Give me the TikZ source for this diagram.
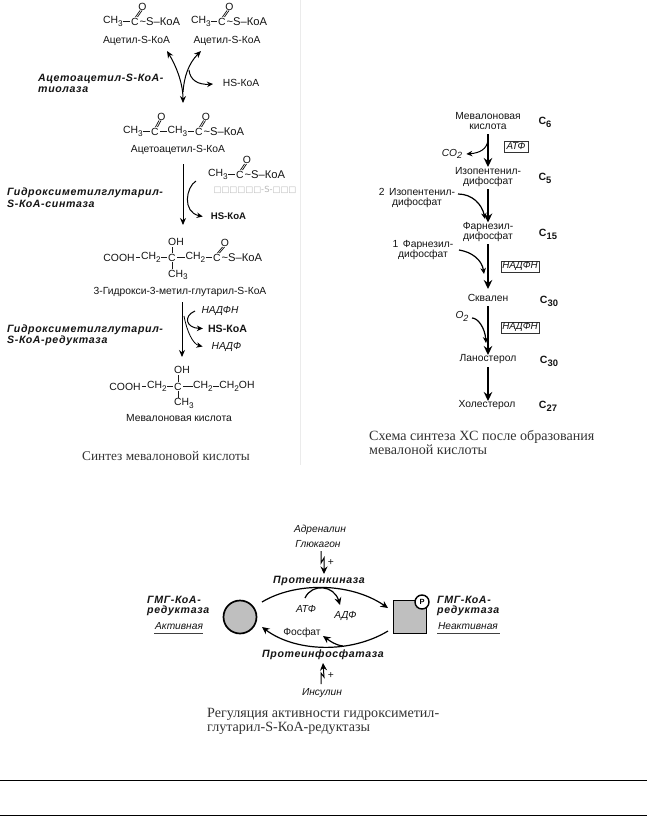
\documentclass[tikz,border=0pt]{standalone}
\usepackage{fontspec}
\setmainfont{Liberation Sans}
\newfontfamily\serifcap{Liberation Serif}
\newfontfamily\tofu{DejaVu Sans}
\newfontfamily\enzfont[LetterSpace=6]{Liberation Sans}
\usetikzlibrary{arrows.meta,calc}
\definecolor{txt}{gray}{0.08}
\newcommand{\sbs}[1]{\raisebox{-0.24em}{\fontsize{8.2}{8}\selectfont #1}}
\newcommand{\sbb}[1]{\raisebox{-0.3em}{\fontsize{9.4}{8}\selectfont #1}}
\newcommand{\tailko}{\fontsize{11.2}{10}\selectfont\textasciitilde S–КоА}
\tikzset{
 x=1pt,y=-1pt,
 chem/.style={inner sep=0pt,font=\fontsize{10.4}{10}\selectfont,text=txt},
 lab/.style={inner sep=0pt,font=\fontsize{10.3}{10}\selectfont,text=txt},
 itl/.style={inner sep=0pt,font=\fontsize{10.2}{10}\selectfont\itshape,text=txt},
 enz/.style={inner sep=0pt,anchor=west,font=\enzfont\fontsize{10.6}{11}\selectfont\bfseries\itshape,text=txt},
 captext/.style={inner sep=0pt,anchor=west,font=\serifcap\fontsize{14.1}{14}\selectfont,text=black!80},
 carb/.style={inner sep=0pt,font=\fontsize{10.5}{10}\selectfont\bfseries,text=txt},
 boxed/.style={draw=black!80,line width=0.5pt,inner xsep=1.2pt,inner ysep=0pt,minimum height=11.5pt,font=\fontsize{9.8}{10}\selectfont\itshape,text=txt},
 bond/.style={line width=0.75pt,draw=black!90},
 flow/.style={line width=1pt,draw=black,-{Stealth[length=7pt,width=6pt]}},
 flowb/.style={line width=1.4pt,draw=black,-{Stealth[length=9pt,width=8.5pt]}},
 side/.style={line width=1pt,draw=black,-{Stealth[length=6pt,width=5.5pt]}},
 regarr/.style={line width=1.2pt,draw=black,-{Stealth[length=7.5pt,width=7pt]}},
 rule/.style={line width=0.5pt,draw=black!75},
 pagerule/.style={line width=0.9pt,draw=black},
}
\newcommand{\dbl}[2]{% double bond from coordinate to coordinate
 \draw[bond] ([xshift=-1pt]#1) -- ([xshift=-1pt]#2);
 \draw[bond] ([xshift=1pt]#1) -- ([xshift=1pt]#2);}
\begin{document}
\begin{tikzpicture}
\useasboundingbox (0,0) rectangle (647,816);
\fill[white] (0,0) rectangle (647,816);
\draw[black!8,line width=0.5pt] (300,0) -- (300,465);

% --- row 1
\node[chem] (a1) at (113,21.5) {CH\sbs{3}};
\node[chem] (a2) at (135,21.5) {C};
\node[chem,anchor=west] (a3) at (139.5,21.5) {\tailko};
\node[chem] (a4) at (142.5,6.5) {O};
\draw[bond] ([xshift=0.5pt]a1.east) -- ([xshift=-1.5pt]a2.west);
\dbl{$(a2)+(1.5,-4.5)$}{$(a4)+(-1.5,4)$}
\node[chem] (b1) at (201,21.5) {CH\sbs{3}};
\node[chem] (b2) at (222,21.5) {C};
\node[chem,anchor=west] (b3) at (226.5,21.5) {\tailko};
\node[chem] (b4) at (229.5,6.5) {O};
\draw[bond] ([xshift=0.5pt]b1.east) -- ([xshift=-1.5pt]b2.west);
\dbl{$(b2)+(1.5,-4.5)$}{$(b4)+(-1.5,4)$}
\node[lab] (a5) at (136.5,40.5) {Ацетил-S-КоА};
\node[lab] (b5) at (227,40.5) {Ацетил-S-КоА};
\coordinate (t1) at (167,51);
\coordinate (t2) at (201,51);
\coordinate (t3) at (183,103);
\draw[flow,{Stealth[length=7pt,width=6pt]}-{Stealth[length=7pt,width=6pt]}] (t1) .. controls (175,64) and (183,82) .. (t3);
\draw[flow] (183,92) .. controls (184,78) and (188,64) .. (t2);
\node[lab] (hs1) at (241,83) {HS-КоА};
\coordinate (s1) at (189,70);
\draw[side] (s1) .. controls (190,80) and (198,85) .. (213,84);
\node[enz] (e1) at (38,78.5) {Ацетоацетил-S-КоА-};
\node[enz] (e1b) at (38,89.5) {тиолаза};

% --- row 2
\node[chem] (c1) at (133,131.5) {CH\sbs{3}};
\node[chem] (c2) at (155,131.5) {C};
\node[chem] (c3) at (177.5,131.5) {CH\sbs{3}};
\node[chem] (c4) at (199,131.5) {C};
\node[chem,anchor=west] (c5) at (203.5,131.5) {\tailko};
\node[chem] (c6) at (161.5,116.5) {O};
\node[chem] (c7) at (206,116.5) {O};
\draw[bond] ([xshift=0.5pt]c1.east) -- ([xshift=-1.5pt]c2.west);
\draw[bond] ([xshift=1.5pt]c2.east) -- ([xshift=-0.5pt]c3.west);
\draw[bond] ([xshift=0.5pt]c3.east) -- ([xshift=-1.5pt]c4.west);
\dbl{$(c2)+(1.5,-4.5)$}{$(c6)+(-1.5,4)$}
\dbl{$(c4)+(1.5,-4.5)$}{$(c7)+(-1.5,4)$}
\node[lab] (c8) at (178,149.5) {Ацетоацетил-S-КоА};
\coordinate (u1) at (183,164);
\coordinate (u2) at (183,225);
\draw[flow] (u1) -- (u2);
% side substrate
\node[chem] (d1) at (218,174.5) {CH\sbs{3}};
\node[chem] (d2) at (240,174.5) {C};
\node[chem,anchor=west] (d3) at (244.5,174.5) {\tailko};
\node[chem] (d4) at (247,160) {O};
\draw[bond] ([xshift=0.5pt]d1.east) -- ([xshift=-1.5pt]d2.west);
\dbl{$(d2)+(1.5,-4.5)$}{$(d4)+(-1.5,4)$}
\node[inner sep=0pt,text=black!28,font=\tofu\fontsize{8.4}{10}\selectfont] (d5) at (255,190) {□□□□□□-S-□□□};
\node[inner sep=0pt,text=txt,font=\fontsize{9.6}{10}\selectfont\bfseries] (hs2) at (228.5,216.5) {HS-КоА};
\coordinate (s2) at (196,181);
\draw[side] (s2) .. controls (186,187) and (182,212) .. ([xshift=-8pt]hs2.west);
\node[enz] (e2) at (7,192.5) {Гидроксиметилглутарил-};
\node[enz] (e2b) at (7,203.5) {S-КоА-синтаза};

% --- row 3
\node[chem] (f1) at (119,257.5) {COOH};
\node[chem] (f2) at (151,257.5) {CH\sbs{2}};
\node[chem] (f3) at (172,257.5) {C};
\node[chem] (f4) at (195.5,257.5) {CH\sbs{2}};
\node[chem] (f5) at (217,257.5) {C};
\node[chem,anchor=west] (f6) at (221.5,257.5) {\tailko};
\node[chem] (f7) at (176,241.5) {OH};
\node[chem] (f8) at (178,275) {CH\sbs{3}};
\node[chem] (f9) at (225,243) {O};
\draw[bond] ([xshift=1pt]f1.east) -- ([xshift=-1pt]f2.west);
\draw[bond] ([xshift=0.5pt]f2.east) -- ([xshift=-1pt]f3.west);
\draw[bond] ([xshift=1pt]f3.east) -- ([xshift=-0.5pt]f4.west);
\draw[bond] ([xshift=0.5pt]f4.east) -- ([xshift=-1pt]f5.west);
\draw[bond] (172,247) -- ([yshift=1pt]f3.north);
\draw[bond] ([yshift=-1pt]f3.south) -- (172,269);
\dbl{$(f5)+(1.5,-4.5)$}{$(f9)+(-1.5,4)$}
\node[lab] (f10) at (180,291.5) {3-Гидрокси-3-метил-глутарил-S-КоА};
\coordinate (v1) at (182,302);
\coordinate (v2) at (182,357);
\draw[flow] (v1) -- (v2);
\node[itl] (n1) at (220,310.5) {НАДФН};
\node[inner sep=0pt,text=txt,font=\fontsize{10.6}{11}\selectfont\bfseries] (n2) at (227.5,328.5) {HS-КоА};
\node[itl] (n3) at (226.5,346.5) {НАДФ};
\coordinate (s3) at (195,311);
\coordinate (s4) at (184,316);
\draw[side] (s3) .. controls (183,316) and (186,328) .. ([xshift=-5pt]n2.west);
\draw[side,line width=0.8pt] (s4) .. controls (187,332) and (193,344) .. ([xshift=-9pt]n3.west);
\node[enz] (e3) at (7,329.5) {Гидроксиметилглутарил-};
\node[enz] (e3b) at (7,340.5) {S-КоА-редуктаза};

% --- row 4
\node[chem] (g1) at (125,386.5) {COOH};
\node[chem] (g2) at (157,386.5) {CH\sbs{2}};
\node[chem] (g3) at (178,386.5) {C};
\node[chem] (g4) at (203,386.5) {CH\sbs{2}};
\node[chem] (g5) at (237,386.5) {CH\sbs{2}OH};
\node[chem] (g6) at (182,369.5) {OH};
\node[chem] (g7) at (184,403.5) {CH\sbs{3}};
\draw[bond] ([xshift=1pt]g1.east) -- ([xshift=-1pt]g2.west);
\draw[bond] ([xshift=0.5pt]g2.east) -- ([xshift=-1pt]g3.west);
\draw[bond] ([xshift=1pt]g3.east) -- ([xshift=-0.5pt]g4.west);
\draw[bond] ([xshift=0.5pt]g4.east) -- ([xshift=-0.5pt]g5.west);
\draw[bond] (178,375) -- ([yshift=1pt]g3.north);
\draw[bond] ([yshift=-1pt]g3.south) -- (178,398);
\node[lab] (g8) at (179,418.5) {Мевалоновая кислота};
\node[captext,font=\serifcap\fontsize{13.3}{14}\selectfont] (cap1) at (82,456) {Синтез мевалоновой кислоты};

% --- right column
\node[lab,align=center] (r1) at (488,121) {Мевалоновая\\кислота};
\node[carb] (c6n) at (545,122) {C\sbb{6}};
\node[lab,align=center] (r2) at (488,177) {Изопентенил-\\дифосфат};
\node[carb] (c5n) at (545,178) {C\sbb{5}};
\node[lab,align=center] (r3) at (488,232) {Фарнезил-\\дифосфат};
\node[carb] (c15n) at (548,234) {C\sbb{15}};
\node[lab] (r4) at (488,298) {Сквален};
\node[carb] (c30a) at (549,301) {C\sbb{30}};
\node[lab] (r5) at (488,359.5) {Ланостерол};
\node[carb] (c30b) at (549,361.5) {C\sbb{30}};
\node[lab] (r6) at (487,405.5) {Холестерол};
\node[carb] (c27) at (548,406.5) {C\sbb{27}};
\draw[flowb] (488,134) -- (488,167);
\draw[flowb] (488,189) -- (488,222.5);
\draw[flowb] (488,244) -- (488,289);
\draw[flowb] (488,306) -- (488,355);
\draw[flowb] (488,367) -- (488,401);
\node[itl] (co2) at (452,154) {CO\raisebox{-0.24em}{\fontsize{9}{8}\selectfont 2}};
\coordinate (w1) at (488,140);
\draw[side] (w1) .. controls (487,149) and (480,153) .. ([xshift=4pt]co2.east);
\node[boxed,minimum width=24pt] (atf) at (516,146.5) {АТФ};
\node[lab,align=center] (iso) at (417,198) {2\, Изопентенил-\\дифосфат};
\draw[side,line width=1.2pt] (458,194) .. controls (472,194) and (482,204) .. (485,219);
\node[lab,align=center] (far) at (423,250) {1\, Фарнезил-\\дифосфат};
\coordinate (w2) at (459,250);
\draw[side,line width=1.2pt] (w2) .. controls (472,252) and (482,260) .. (484,274);
\node[boxed] (nad1) at (520,266.5) {НАДФН};
\node[itl] (o2) at (462,316.5) {O\raisebox{-0.24em}{\fontsize{9}{8}\selectfont 2}};
\draw[side,line width=1.2pt] (472,318) .. controls (478,318) and (485,328) .. (486,343);
\node[boxed] (nad2) at (520,327.5) {НАДФН};
\node[captext,align=left] (cap2) at (369,443) {Схема синтеза ХС после образования\\мевалоной кислоты};

% --- regulation
\node[itl] (h1) at (320,530) {Адреналин};
\node[itl] (h2) at (318,544) {Глюкагон};
\node[enz,anchor=center] (pk) at (319,580.5) {Протеинкиназа};
\node[enz,anchor=center] (pp) at (323,654.5) {Протеинфосфатаза};
\node[itl] (h3) at (322,693) {Инсулин};
\node[lab] (pl1) at (331,563) {+};
\node[lab] (pl2) at (331,676) {+};
\draw[regarr,line width=1pt] (321,551) -- (321,563) -- (324,558) -- (324,574);
\draw[regarr,line width=1pt] (321,684) -- (321,673) -- (324,677) -- (323,663);
\node[circle,draw=black,line width=1.7pt,fill=black!25,minimum size=33pt,inner sep=0pt] (act) at (240,617) {};
\node[rectangle,draw=black,line width=1.7pt,fill=black!25,minimum size=33pt,inner sep=0pt] (ina) at (410,617) {};
\node[circle,draw=black,line width=1.4pt,fill=white,minimum size=14pt,inner sep=0pt,font=\fontsize{7.5}{8}\selectfont\bfseries] (ph) at (422,602) {P};
\draw[regarr] (262,602) .. controls (295,582) and (350,582) .. (388,608);
\draw[regarr] (388,631) .. controls (350,654) and (295,652) .. (262,627);
\node[itl] (atp) at (306,608.5) {АТФ};
\node[itl] (adp) at (345.5,615.5) {АДФ};
\node[lab] (fos) at (302,632.5) {Фосфат};
\draw[regarr] (305,598) .. controls (312,583) and (334,585) .. (340,605);
\coordinate (w3) at (343,646);
\draw[regarr] (w3) .. controls (335,645) and (330,641) .. (323,636);
\node[enz] (ga) at (147,600) {ГМГ-КоА-};
\node[enz] (gb) at (147,611) {редуктаза};
\node[itl] (ac) at (179,626.5) {Активная};
\draw[rule] (154,633) -- (203,633);
\node[enz] (gc) at (437,600) {ГМГ-КоА-};
\node[enz] (gd) at (437,611) {редуктаза};
\node[itl] (ne) at (468,626.5) {Неактивная};
\draw[rule] (437,633) -- (500,633);
\node[captext,align=left] (cap3) at (207,721) {Регуляция активности гидроксиметил-\\глутарил-S-КоА-редуктазы};

% --- page rules
\draw[pagerule] (0,780.3) -- (647,780.3);
\draw[pagerule] (0,815.3) -- (647,815.3);
\end{tikzpicture}
\end{document}
